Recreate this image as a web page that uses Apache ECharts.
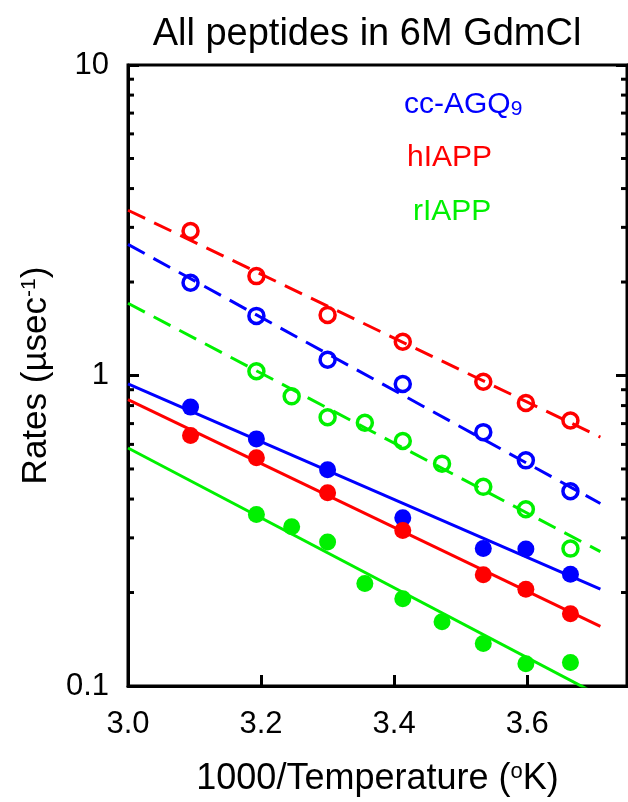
<!DOCTYPE html>
<html>
<head>
<meta charset="utf-8">
<title>All peptides in 6M GdmCl</title>
<script src="https://cdn.jsdelivr.net/npm/echarts@6/dist/echarts.min.js"></script>
<style>
  html, body { margin: 0; padding: 0; background: #fff; }
  #chart { width: 628px; height: 802px; }
</style>
</head>
<body>
<div id="chart"></div>
<script>
// Inverse temperature (1000/T, K^-1) for each measurement
const xSeven = [3.094, 3.193, 3.300, 3.413, 3.534, 3.598, 3.665];
const xNine  = [3.193, 3.246, 3.300, 3.356, 3.413, 3.472, 3.534, 3.598, 3.665];

// Rates (µs^-1), open symbols
const agqOpen  = [1.99, 1.556, 1.124, 0.939, 0.657, 0.533, 0.424];
const hiappOpen = [2.92, 2.09, 1.567, 1.284, 0.955, 0.816, 0.716];
const riappOpen = [1.032, 0.857, 0.734, 0.704, 0.615, 0.520, 0.438, 0.371, 0.277];

// Rates (µs^-1), filled symbols
const agqFilled  = [0.791, 0.625, 0.497, 0.348, 0.277, 0.276, 0.229];
const hiappFilled = [0.641, 0.543, 0.419, 0.317, 0.228, 0.205, 0.171];
const riappFilled = [0.357, 0.326, 0.291, 0.214, 0.191, 0.161, 0.137, 0.118, 0.119];

// Arrhenius fit lines: x range and the fitted rate at each end
const fitX = [3.0, 3.71];
const agqOpenFit   = [2.644, 0.387];
const hiappOpenFit = [3.406, 0.633];
const riappOpenFit = [1.709, 0.271];
const agqFilledFit   = [0.939, 0.205];
const hiappFilledFit = [0.836, 0.1555];
const riappFilledFit = [0.584, 0.0928];

// Axis extents and log-axis minor tick values
const xMin = 3.0, xMax = 3.75, xStep = 0.2;
const yMin = 0.1, yMax = 10;
const minorTickValues = [0.2, 0.3, 0.4, 0.5, 0.6, 0.7, 0.8, 0.9, 2, 3, 4, 5, 6, 7, 8, 9];

const BLUE = '#0000ff', RED = '#ff0000', GREEN = '#00f000';
const FONT = '"Liberation Sans", Arial, Helvetica, sans-serif';

const zip = (xs, ys) => xs.map((x, i) => [x, ys[i]]);

function fitLine(values, color, dashed) {
  return {
    type: 'line',
    data: zip(fitX, values),
    showSymbol: false,
    silent: true,
    clip: true,
    z: 2,
    lineStyle: { color: color, width: 3, type: dashed ? [19, 10] : 'solid', cap: 'butt' }
  };
}
function openPoints(xs, ys, color) {
  return {
    type: 'scatter',
    data: zip(xs, ys),
    symbol: 'circle',
    symbolSize: 15,
    z: 3,
    itemStyle: { color: 'rgba(0,0,0,0)', borderColor: color, borderWidth: 3.5, opacity: 1 }
  };
}
function filledPoints(xs, ys, color) {
  return {
    type: 'scatter',
    data: zip(xs, ys),
    symbol: 'circle',
    symbolSize: 17,
    z: 3,
    itemStyle: { color: color, opacity: 1 }
  };
}

const yAxisCommon = {
  type: 'log',
  logBase: 10,
  min: yMin,
  max: yMax,
  axisLine: { show: true, lineStyle: { color: '#000', width: 3 } },
  axisTick: { show: true, inside: true, length: 11, lineStyle: { color: '#000', width: 3 } },
  splitLine: { show: false },
  minorTick: { show: false }
};

const chart = echarts.init(document.getElementById('chart'), null, { renderer: 'canvas' });
chart.setOption({
  animation: false,
  backgroundColor: '#fff',
  title: [
    { text: 'All peptides in 6M GdmCl', left: 367, top: 16, textAlign: 'center', padding: 0,
      textStyle: { fontFamily: FONT, fontSize: 38, fontWeight: 'normal', color: '#000' } },
    { text: '{m|cc-AGQ}{b|9}', left: 404, top: 90, padding: 0,
      textStyle: { fontFamily: FONT, fontSize: 30, fontWeight: 'normal', color: BLUE,
        rich: { m: { fontFamily: FONT, fontSize: 30, color: BLUE },
                b: { fontFamily: FONT, fontSize: 21, color: BLUE, verticalAlign: 'bottom' } } } },
    { text: 'hIAPP', left: 407, top: 143, padding: 0,
      textStyle: { fontFamily: FONT, fontSize: 30, fontWeight: 'normal', color: RED } },
    { text: 'rIAPP', left: 413, top: 197, padding: 0,
      textStyle: { fontFamily: FONT, fontSize: 30, fontWeight: 'normal', color: GREEN } }
  ],
  grid: {
    left: 128, top: 65, right: 1, bottom: 114,
    show: true, borderColor: '#000', borderWidth: 3, backgroundColor: 'rgba(0,0,0,0)'
  },
  xAxis: {
    type: 'value',
    min: xMin, max: xMax, interval: xStep,
    name: '{a|1000/Temperature (}{s|o}{a|K)}',
    nameLocation: 'middle',
    nameGap: 75,
    nameTextStyle: {
      fontFamily: FONT, fontSize: 36, color: '#000',
      rich: { a: { fontFamily: FONT, fontSize: 36, color: '#000' },
              s: { fontFamily: FONT, fontSize: 22, color: '#000', verticalAlign: 'top' } }
    },
    axisLine: { show: true, lineStyle: { color: '#000', width: 3 } },
    axisTick: { show: true, inside: true, length: 11, lineStyle: { color: '#000', width: 3 } },
    axisLabel: {
      fontFamily: FONT, fontSize: 31, color: '#000', margin: 23,
      showMaxLabel: false,
      formatter: v => v.toFixed(1)
    },
    splitLine: { show: false }
  },
  yAxis: [
    Object.assign({}, yAxisCommon, {
      position: 'left',
      name: '{a|Rates (µsec}{s|-1}{a|)}',
      nameLocation: 'middle',
      nameRotate: 90,
      nameGap: 74,
      nameTextStyle: {
        fontFamily: FONT, fontSize: 35, color: '#000',
        rich: { a: { fontFamily: FONT, fontSize: 35, color: '#000' },
                s: { fontFamily: FONT, fontSize: 21, color: '#000', verticalAlign: 'top' } }
      },
      axisLabel: {
        fontFamily: FONT, fontSize: 31, color: '#000', margin: 19,
        formatter: v => (v < 1 ? v.toFixed(1) : String(Math.round(v)))
      }
    }),
    Object.assign({}, yAxisCommon, {
      position: 'right',
      axisLabel: { show: false }
    })
  ],
  series: [
    fitLine(hiappOpenFit, RED, true),
    fitLine(agqOpenFit, BLUE, true),
    fitLine(riappOpenFit, GREEN, true),
    fitLine(agqFilledFit, BLUE, false),
    fitLine(hiappFilledFit, RED, false),
    fitLine(riappFilledFit, GREEN, false),
    openPoints(xSeven, hiappOpen, RED),
    openPoints(xSeven, agqOpen, BLUE),
    openPoints(xNine, riappOpen, GREEN),
    filledPoints(xSeven, agqFilled, BLUE),
    filledPoints(xSeven, hiappFilled, RED),
    filledPoints(xNine, riappFilled, GREEN),
    {
      // short inward ticks at 2..9 of each decade, on both vertical frame edges
      type: 'custom',
      coordinateSystem: 'cartesian2d',
      silent: true,
      clip: false,
      z: 5,
      data: minorTickValues.map(v => [xMin, v]),
      renderItem: function (params, api) {
        const p = api.coord([api.value(0), api.value(1)]);
        const cs = params.coordSys;
        const len = 6;
        return {
          type: 'group',
          children: [
            { type: 'line', shape: { x1: cs.x, y1: p[1], x2: cs.x + len, y2: p[1] },
              style: { stroke: '#000', lineWidth: 3 } },
            { type: 'line', shape: { x1: cs.x + cs.width - len, y1: p[1], x2: cs.x + cs.width, y2: p[1] },
              style: { stroke: '#000', lineWidth: 3 } }
          ]
        };
      }
    }
  ]
});
</script>
</body>
</html>
